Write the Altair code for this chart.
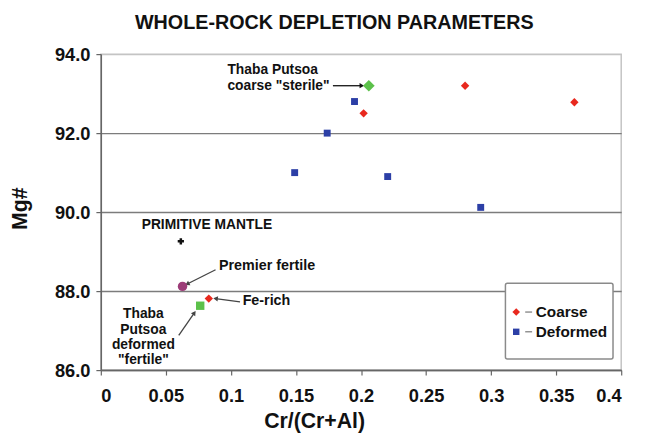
import math
import altair as alt
import pandas as pd

FONT = "Liberation Sans"

# ---- data ----
coarse_x = [0.280, 0.364, 0.202, 0.083]
coarse_y = [93.2, 92.78, 92.5, 87.81]
deformed_x = [0.195, 0.174, 0.149, 0.2205, 0.292]
deformed_y = [92.8, 92.0, 91.0, 90.9, 90.12]

# special reference samples
tp_sterile = (0.206, 93.2)      # green diamond
tp_fertile = (0.0764, 87.63)    # green square
premier = (0.0628, 88.12)       # purple circle
prim_mantle = (0.0615, 89.26)   # black cross

x_ticks = [0, 0.05, 0.1, 0.15, 0.2, 0.25, 0.3, 0.35, 0.4]
y_ticks = [86, 88, 90, 92, 94]

# annotation texts (data units)
lab_stack_text = ["Thaba Putsoa", 'coarse "sterile"']
lab_stack_x = [0.0973, 0.0973]
lab_stack_y = [93.60, 93.19]

lab_left_text = ["Premier fertile", "Fe-rich"]
lab_left_x = [0.0908, 0.109]
lab_left_y = [88.64, 87.74]

pm_text = ["PRIMITIVE MANTLE"]
pm_x = [0.0314]
pm_y = [89.68]

lab_ctr_text = ["Thaba", "Putsoa", "deformed", '"fertile"']
lab_ctr_x = [0.0327, 0.0327, 0.0327, 0.0327]
lab_ctr_y = [87.43, 87.02, 86.64, 86.25]

# arrows: start -> tip
arr_x = [0.1784, 0.0882, 0.107, 0.0599]
arr_y = [93.2, 88.54, 87.73, 86.88]
arr_x2 = [0.2006, 0.0664, 0.0882, 0.0719]
arr_y2 = [93.2, 88.18, 87.81, 87.45]
arr_col = ["#111111", "#444444", "#444444", "#444444"]

# legend
leg_box = dict(x=0.311, x2=0.3937, y=88.20, y2=86.28)
leg_sym_x = 0.3193
leg_dash_x = (0.3262, 0.3315)
leg_text_x = 0.3343
leg_rows_y = [87.47, 86.97]
leg_labels = ["Coarse", "Deformed"]

W, H = 527, 320
XD, YD = [0, 0.4], [86, 94]

RED, BLUE, GREEN, PURPLE = "#e8281e", "#2c3fa6", "#5cc14a", "#9c3d78"


def X(field="x"):
    return alt.X(f"{field}:Q", scale=alt.Scale(domain=XD, nice=False, zero=False),
                 axis=alt.Axis(values=x_ticks, format="~g", title="Cr/(Cr+Al)",
                               grid=False, titleX=216, titleY=52,
                               titleBaseline="middle", titleAlign="center"))


def Y(field="y"):
    return alt.Y(f"{field}:Q", scale=alt.Scale(domain=YD, nice=False, zero=False),
                 axis=alt.Axis(values=y_ticks, format=".1f", title="Mg#", grid=True,
                               gridColor=alt.condition("datum.value == 94",
                                                       alt.value("#c4c4c4"),
                                                       alt.value("#7c7c7c")),
                               titleX=-81, titleY=156, titleAngle=270,
                               titleBaseline="middle", titleAlign="center"))


coarse_df = pd.DataFrame({"x": coarse_x, "y": coarse_y})
deformed_df = pd.DataFrame({"x": deformed_x, "y": deformed_y})

coarse = alt.Chart(coarse_df).mark_point(shape="diamond", filled=True, color=RED,
                                         size=72, opacity=1).encode(x=X(), y=Y())
deformed = alt.Chart(deformed_df).mark_point(shape="square", filled=True, color=BLUE,
                                             size=49, opacity=1).encode(x=X(), y=Y())

sterile = alt.Chart(pd.DataFrame({"x": [tp_sterile[0]], "y": [tp_sterile[1]]})).mark_point(
    shape="diamond", filled=True, color=GREEN, size=140, opacity=1).encode(x=X(), y=Y())
fertile = alt.Chart(pd.DataFrame({"x": [tp_fertile[0]], "y": [tp_fertile[1]]})).mark_point(
    shape="square", filled=True, color=GREEN, size=72, opacity=1).encode(x=X(), y=Y())
prem = alt.Chart(pd.DataFrame({"x": [premier[0]], "y": [premier[1]]})).mark_point(
    shape="circle", filled=True, color=PURPLE, size=92, opacity=1).encode(x=X(), y=Y())
pm = alt.Chart(pd.DataFrame({"x": [prim_mantle[0]], "y": [prim_mantle[1]]})).mark_point(
    shape="cross", filled=True, color="#111111", size=40, opacity=1).encode(x=X(), y=Y())

# arrows
px_x = W / (XD[1] - XD[0])
px_y = H / (YD[1] - YD[0])
angles = []
for a, b, c, d in zip(arr_x, arr_y, arr_x2, arr_y2):
    dx = (c - a) * px_x
    dy = -(d - b) * px_y
    angles.append(math.degrees(math.atan2(dx, -dy)) % 360)

arr_df = pd.DataFrame({"x": arr_x, "y": arr_y, "x2": arr_x2, "y2": arr_y2,
                       "col": arr_col, "ang": angles})
arrows = alt.Chart(arr_df).mark_rule(strokeWidth=1.3).encode(
    x=X(), y=Y(), x2="x2:Q", y2="y2:Q", color=alt.Color("col:N", scale=None))
heads = alt.Chart(arr_df).mark_point(shape="triangle-up", filled=True, size=28,
                                     opacity=1).encode(
    x=X("x2"), y=Y("y2"), color=alt.Color("col:N", scale=None), angle=alt.Angle("ang:Q", scale=None))


def txt(xs, ys, ts, align, size):
    return alt.Chart(pd.DataFrame({"x": xs, "y": ys, "t": ts})).mark_text(
        align=align, baseline="middle", font=FONT, fontWeight="bold",
        fontSize=size, color="#111111").encode(x=X(), y=Y(), text="t:N")


lab_stack = txt(lab_stack_x, lab_stack_y, lab_stack_text, "left", 14)
lab_left = txt(lab_left_x, lab_left_y, lab_left_text, "left", 14.5)
lab_pm = txt(pm_x, pm_y, pm_text, "left", 14)
lab_ctr = txt(lab_ctr_x, lab_ctr_y, lab_ctr_text, "center", 14)

# legend box
leg_rect = alt.Chart(pd.DataFrame([leg_box])).mark_rect(
    fill="white", stroke="#8a8a8a", strokeWidth=1.5, cornerRadius=2).encode(
    x=X(), x2="x2:Q", y=Y(), y2="y2:Q")
leg_df = pd.DataFrame({"x": [leg_sym_x] * 2, "y": leg_rows_y, "t": leg_labels,
                       "dx1": [leg_dash_x[0]] * 2, "dx2": [leg_dash_x[1]] * 2,
                       "tx": [leg_text_x] * 2})
leg_c = alt.Chart(leg_df.iloc[[0]]).mark_point(shape="diamond", filled=True, color=RED,
                                               size=60, opacity=1).encode(x=X(), y=Y())
leg_d = alt.Chart(leg_df.iloc[[1]]).mark_point(shape="square", filled=True, color=BLUE,
                                               size=42, opacity=1).encode(x=X(), y=Y())
leg_dash = alt.Chart(leg_df).mark_rule(color="#777777", strokeWidth=1.2).encode(
    x=X("dx1"), x2="dx2:Q", y=Y())
leg_txt = alt.Chart(leg_df).mark_text(align="left", baseline="middle", font=FONT,
                                      fontWeight="bold", fontSize=15.5, color="#111111").encode(
    x=X("tx"), y=Y(), text="t:N")

chart = alt.layer(
    arrows, heads, deformed, coarse, sterile, fertile, prem, pm,
    lab_stack, lab_left, lab_pm, lab_ctr,
    leg_rect, leg_dash, leg_c, leg_d, leg_txt,
).properties(
    width=W, height=H,
    title=alt.TitleParams("WHOLE-ROCK DEPLETION PARAMETERS", font=FONT, fontSize=20,
                          fontWeight="bold", color="#111111", anchor="middle",
                          dx=-27, offset=12),
    autosize=alt.AutoSizeParams(type="none"),
    padding={"left": 94, "top": 44, "right": 17, "bottom": 63},
).configure_view(
    stroke="#c4c4c4", strokeWidth=1.5
).configure_axis(
    labelFont=FONT, labelFontWeight="bold", labelFontSize=18.5, labelColor="#111111",
    titleFont=FONT, titleFontWeight="bold", titleFontSize=21.5, titleColor="#111111",
    domainColor="#666666", domainWidth=1.5, tickColor="#666666", tickWidth=1.2,
    tickSize=5, gridWidth=1.5,
).configure_axisX(labelPadding=12).configure_axisY(labelPadding=6)

chart.save("out.html", embed_options={"renderer": "svg", "actions": False})
